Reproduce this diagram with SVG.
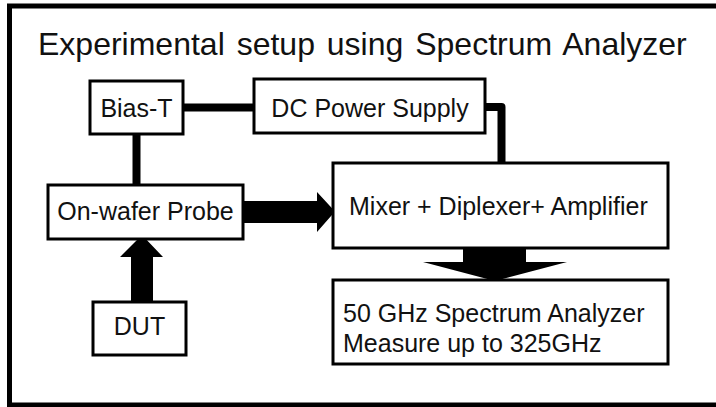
<svg xmlns="http://www.w3.org/2000/svg" width="716" height="407" viewBox="0 0 716 407">
<style>
.box{fill:#fff;stroke:#000;stroke-width:3}
.t{font-family:"Liberation Sans",Arial,sans-serif;font-size:25px;fill:#111}
.ln{fill:none;stroke:#000;stroke-width:8;stroke-linejoin:round}
.ar{fill:#000}
</style>
<rect x="0" y="0" width="716" height="407" fill="#fff"/>
<rect x="9.5" y="6" width="730" height="399" fill="none" stroke="#000" stroke-width="5"/>
<text x="38" y="55" font-family="Liberation Sans,Arial,sans-serif" font-size="32" fill="#111" word-spacing="3">Experimental setup using Spectrum Analyzer</text>
<g id="connectors">
<line class="ln" x1="183" y1="107.5" x2="254" y2="107.5"/>
<path class="ln" d="M485 107 H501.5 V164" stroke-width="9"/>
<line class="ln" x1="136.5" y1="134" x2="136.5" y2="186" stroke-width="7"/>
<polygon class="ar" points="243,201 317,201 317,192 335,211.5 317,232 317,223 243,223"/>
<polygon class="ar" points="131,302 131,257 120,257 142,235 163,257 153,257 153,302"/>
<polygon class="ar" points="463,246 526,246 526,262 567,262 495,281 423,262 463,262"/>
</g>
<g id="bias-t">
<rect class="box" x="90" y="81" width="93" height="53"/>
<text class="t" x="136.5" y="117" text-anchor="middle">Bias-T</text>
</g>
<g id="dc-power">
<rect class="box" x="254" y="79" width="231" height="54"/>
<text class="t" x="370" y="117" text-anchor="middle">DC Power Supply</text>
</g>
<g id="probe">
<rect class="box" x="48" y="185" width="195" height="54"/>
<text class="t" x="145.5" y="220" text-anchor="middle">On-wafer Probe</text>
</g>
<g id="mixer">
<rect class="box" x="333" y="163" width="335" height="85"/>
<text class="t" x="349" y="215">Mixer + Diplexer+ Amplifier</text>
</g>
<g id="dut">
<rect class="box" x="93" y="302" width="93" height="53"/>
<text class="t" x="139.5" y="335" text-anchor="middle" font-size="28">DUT</text>
</g>
<g id="analyzer">
<rect class="box" x="333" y="280" width="335" height="84"/>
<text class="t" x="343" y="322">50 GHz Spectrum Analyzer</text>
<text class="t" x="343" y="352">Measure up to 325GHz</text>
</g>
</svg>
